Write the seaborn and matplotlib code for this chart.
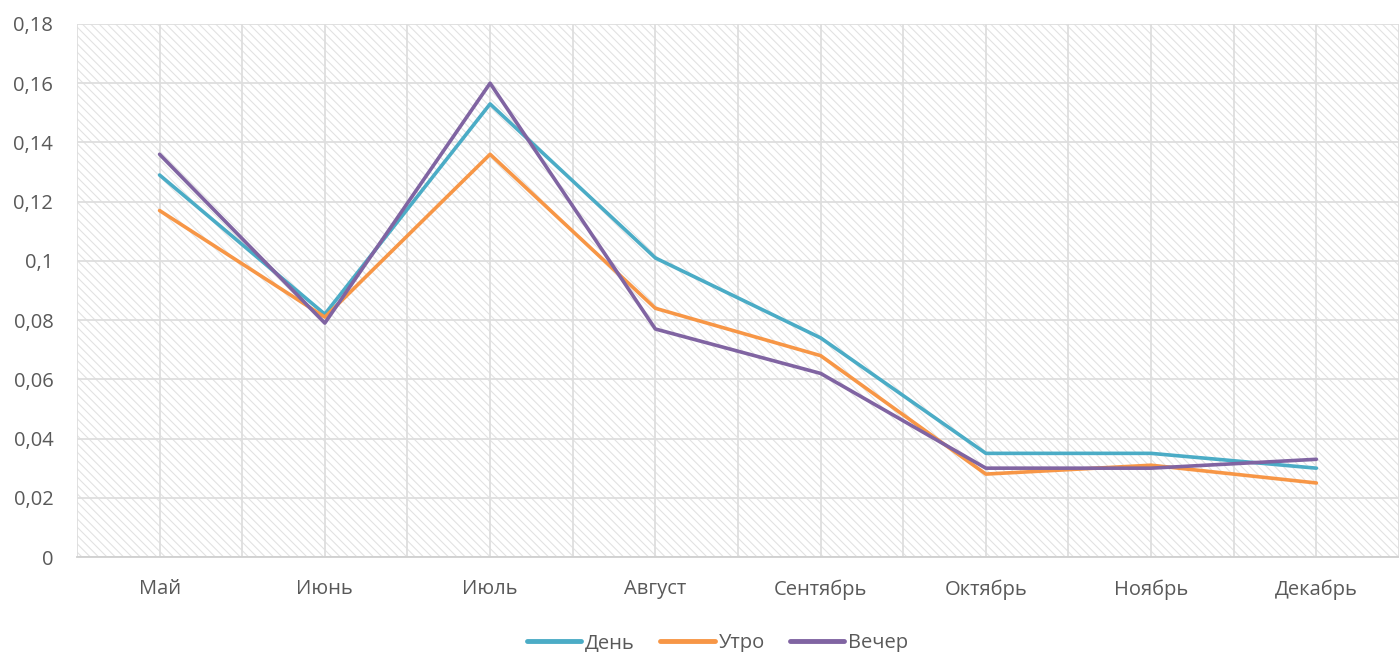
import pandas as pd
import seaborn as sns
import matplotlib.pyplot as plt
import numpy as np
from matplotlib.patches import Rectangle
from matplotlib.ticker import FuncFormatter

# Данные
months = ['Май', 'Июнь', 'Июль', 'Август', 'Сентябрь', 'Октябрь', 'Ноябрь', 'Декабрь']
den = [0.129, 0.082, 0.153, 0.101, 0.074, 0.035, 0.035, 0.030]
utro = [0.117, 0.081, 0.136, 0.084, 0.068, 0.028, 0.031, 0.025]
vecher = [0.136, 0.079, 0.160, 0.077, 0.062, 0.030, 0.030, 0.033]
series_names = ['День', 'Утро', 'Вечер']

colors = {'День': '#4BACC6', 'Утро': '#F79646', 'Вечер': '#8064A2'}
text_color = '#595959'
grid_color = '#dedede'

df = pd.DataFrame({
    'Месяц': months * 3,
    'Значение': den + utro + vecher,
    'Серия': [s for s in series_names for _ in months],
})

sns.set_style('white')
plt.rcParams['font.family'] = ['Open Sans', 'DejaVu Sans']
plt.rcParams['hatch.linewidth'] = 0.8
plt.rcParams['hatch.color'] = '#e2e2e2'

fig = plt.figure(figsize=(13.99, 6.52), dpi=100)
ax = fig.add_axes([0.055, 0.1457, 0.945, 0.8175])

# штриховка фона
bg = Rectangle((0, 0), 1, 1, transform=ax.transAxes, facecolor='white',
               edgecolor='#e2e2e2', hatch='\\\\\\\\', linewidth=0, zorder=0.1)
ax.add_patch(bg)

sns.lineplot(data=df, x='Месяц', y='Значение', hue='Серия', palette=colors,
             sort=False, linewidth=2.6, ax=ax, legend=False, zorder=3)

ax.set_xlim(-0.5, 7.464)
ax.set_ylim(0, 0.18)
ax.set_yticks(np.arange(0, 0.181, 0.02))
ax.yaxis.set_major_formatter(FuncFormatter(
    lambda v, p: (f'{v:.2f}'.rstrip('0').rstrip('.')).replace('.', ',')))
ax.set_xticks(range(len(months)))
ax.set_xticklabels(months)
ax.set_xticks(np.arange(-0.5, 8, 1.0), minor=True)

ax.set_axisbelow(True)
ax.grid(True, which='both', color=grid_color, linewidth=1.3, zorder=0.5)
ax.tick_params(axis='both', which='both', length=0, labelsize=14.5, colors=text_color)
ax.tick_params(axis='x', pad=16)
ax.tick_params(axis='y', pad=17)
ax.set_xlabel('')
ax.set_ylabel('')

for side in ['top', 'right', 'left']:
    ax.spines[side].set_visible(False)
ax.spines['bottom'].set_color('#d0d0d0')
ax.spines['bottom'].set_linewidth(1.3)

handles = [plt.Line2D([0], [0], color=colors[s], linewidth=3.5, solid_capstyle='round')
           for s in series_names]
fig.legend(handles, series_names, loc='lower center', bbox_to_anchor=(0.513, -0.03),
           ncol=3, frameon=False, fontsize=14.5, handlelength=2.7, handletextpad=0.2,
           columnspacing=1.25, labelcolor=text_color)

fig.savefig('out.png', dpi=100)
